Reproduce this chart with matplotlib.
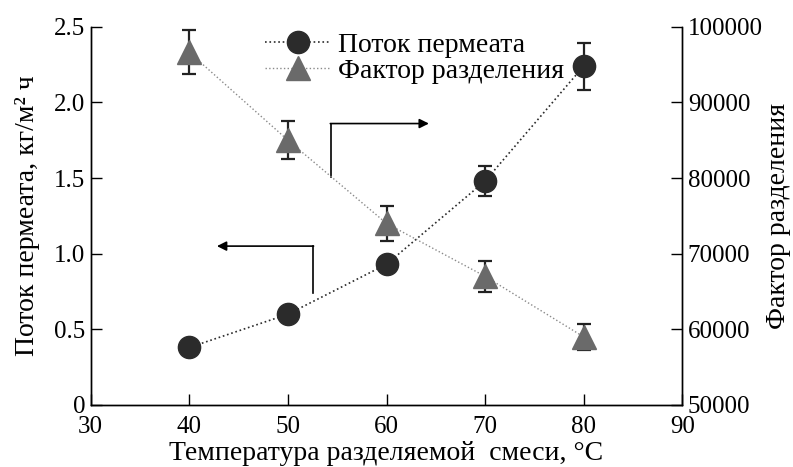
import matplotlib
matplotlib.use("Agg")
import matplotlib.pyplot as plt

plt.rcParams['font.family'] = ['Liberation Serif', 'DejaVu Serif']

# data
temp = [40, 50, 60, 70, 80]
flux = [0.38, 0.60, 0.93, 1.48, 2.24]
flux_err = [0.0, 0.0, 0.03, 0.10, 0.155]
factor = [96600, 85000, 74000, 67000, 59000]
factor_err = [2900, 2500, 2300, 2000, 1700]

xticks = [30, 40, 50, 60, 70, 80, 90]
yticks_left = [0, 0.5, 1.0, 1.5, 2.0, 2.5]
ylabels_left = ['0', '0.5', '1.0', '1.5', '2.0', '2.5']
yticks_right = [50000, 60000, 70000, 80000, 90000, 100000]

fig = plt.figure(figsize=(7.93, 4.67), dpi=100)
ax1 = fig.add_axes([0.1144, 0.1328, 0.746, 0.81])
ax2 = ax1.twinx()

fs = 18
lfs = 20
c1 = ax1.errorbar(temp, flux, yerr=flux_err, fmt='o', color='#2b2b2b', ls=':', lw=1.2,
                  ms=16, ecolor='#222222', elinewidth=1.6, capsize=5, capthick=1.6,
                  label='Поток пермеата', zorder=3)
c2 = ax2.errorbar(temp, factor, yerr=factor_err, fmt='^', color='#6a6a6a', ls=':', lw=1.0,
                  ms=17, ecolor='#222222', elinewidth=1.6, capsize=5, capthick=1.6,
                  label='Фактор разделения', zorder=3)
# lighter line for triangles
c2[0].set_color('#8a8a8a')
c2[0].set_markerfacecolor('#6a6a6a')
c2[0].set_markeredgecolor('#6a6a6a')

ax1.set_xlim(30, 90)
ax1.set_ylim(0, 2.5)
ax2.set_ylim(50000, 100000)
ax1.set_xticks(xticks)
ax1.set_yticks(yticks_left)
ax1.set_yticklabels(ylabels_left)
ax2.set_yticks(yticks_right)

for ax in (ax1, ax2):
    ax.spines['top'].set_visible(False)
    ax.tick_params(direction='in', length=8, width=1, labelsize=fs, pad=4)
    for s in ax.spines.values():
        s.set_linewidth(1.0)
ax1.tick_params(axis='x', pad=8)

ax1.set_xlabel('Температура разделяемой  смеси, °C', fontsize=lfs, labelpad=2)
ax1.set_ylabel('Поток пермеата, кг/м² ч', fontsize=lfs, labelpad=10)
ax2.set_ylabel('Фактор разделения', fontsize=lfs, labelpad=2)

# direction arrows
ax1.plot([52.5, 52.5], [0.74, 1.05], color='black', lw=1.2)
ax1.annotate('', xy=(42.8, 1.05), xytext=(52.6, 1.05),
             arrowprops=dict(arrowstyle='-|>', color='black', lw=1.2, mutation_scale=14,
                             shrinkA=0, shrinkB=0))
ax1.plot([54.4, 54.4], [1.51, 1.86], color='black', lw=1.2)
ax1.annotate('', xy=(64.3, 1.86), xytext=(54.3, 1.86),
             arrowprops=dict(arrowstyle='-|>', color='black', lw=1.2, mutation_scale=14,
                             shrinkA=0, shrinkB=0))

leg = ax2.legend([c1[0], c2[0]], ['Поток пермеата', 'Фактор разделения'],
                 loc='upper left', bbox_to_anchor=(0.275, 1.015),
                 frameon=False, fontsize=lfs, handlelength=2.4, handletextpad=0.25,
                 labelspacing=0.02, borderaxespad=0)

fig.savefig('out.png', dpi=100)
